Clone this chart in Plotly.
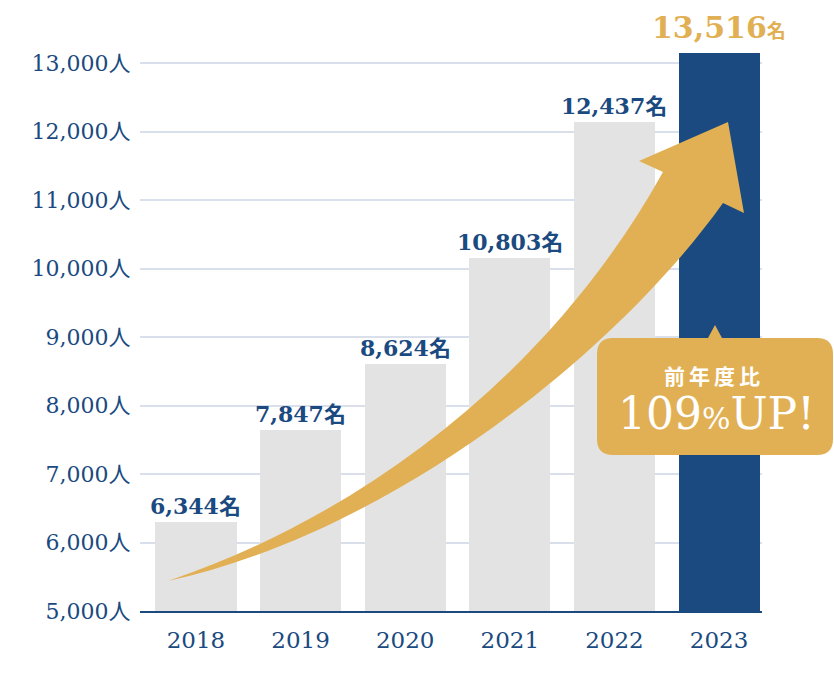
import plotly.graph_objects as go

# ---- data ----
years = ["2018", "2019", "2020", "2021", "2022", "2023"]
bar_heights = [6304, 7642, 8606, 10158, 12139, 13142]   # heights as drawn
value_labels = ["6,344", "7,847", "8,624", "10,803", "12,437", "13,516"]
unit = "名"
y_tickvals = [5000, 6000, 7000, 8000, 9000, 10000, 11000, 12000, 13000]
y_ticktext = ["5,000人", "6,000人", "7,000人", "8,000人", "9,000人",
              "10,000人", "11,000人", "12,000人", "13,000人"]
callout_line1 = "前年度比"
callout_line2 = "109%UP!"

# ---- style ----
NAVY = "#1a4a80"
GOLD = "#e2b054"
GRAY = "#e3e3e3"
SERIF = "DejaVu Serif, Noto Sans CJK JP, serif"

OFF = 0  # body margin removed via post_script
W, H = 834, 694
ML, MR, MT, MB = 140, 72, 20, 83
PW, PH = W - ML - MR, H - MT - MB


def px(x):  # page pixel -> paper
    return (x - OFF - ML) / PW


def py(y):
    return (H - MB - (y - OFF)) / PH


def pt(x, y):
    return f"{px(x):.5f},{py(y):.5f}"


colors = [GRAY] * (len(years) - 1) + [NAVY]

fig = go.Figure()
fig.add_trace(go.Bar(
    x=years, y=bar_heights, marker=dict(color=colors, line=dict(width=0)),
    width=0.775, hoverinfo="skip",
))

annotations = []
for i, (h, lab) in enumerate(zip(bar_heights, value_labels)):
    if i < len(years) - 1:
        annotations.append(dict(
            x=i, y=h, xref="x", yref="y", yanchor="bottom", xanchor="center",
            text=f"{lab}{unit}", showarrow=False, yshift=1,
            font=dict(family=SERIF, size=22, color=NAVY, weight="bold"),
        ))
    else:
        annotations.append(dict(
            x=i, y=h, xref="x", yref="y", yanchor="bottom", xanchor="center",
            text=f"{lab}<span style='font-size:19px'>{unit}</span>",
            showarrow=False, yshift=6,
            font=dict(family=SERIF, size=30, color=GOLD, weight="bold"),
        ))

# callout texts
annotations.append(dict(
    x=px(714), y=py(377), xref="paper", yref="paper", xanchor="center", yanchor="middle",
    text=f"<span style='letter-spacing:4px'>{callout_line1}</span>", showarrow=False,
    font=dict(family=SERIF, size=21, color="white", weight="bold"),
))
annotations.append(dict(
    x=px(716), y=py(413), xref="paper", yref="paper", xanchor="center", yanchor="middle",
    text=callout_line2.replace("%", "<span style='font-size:30px'>%</span>"),
    showarrow=False,
    font=dict(family=SERIF, size=44, color="white"),
))

# decorative arrow (page-pixel geometry -> paper)
arrow_path = (
    f"M {pt(168,581)} C {pt(368,513)} {pt(553,370)} {pt(663,172)} "
    f"L {pt(639,161)} L {pt(728,122)} L {pt(744,213)} L {pt(723,203)} "
    f"C {pt(613,357)} {pt(388,533)} {pt(168,581)} Z"
)

# callout box with pointer
x0, y0, x1, y1, r = 597, 338, 833, 455, 16
box_path = (
    f"M {pt(x0+r,y0)} L {pt(708,y0)} L {pt(715,325)} L {pt(722,y0)} L {pt(x1-r,y0)} "
    f"Q {pt(x1,y0)} {pt(x1,y0+r)} L {pt(x1,y1-r)} Q {pt(x1,y1)} {pt(x1-r,y1)} "
    f"L {pt(x0+r,y1)} Q {pt(x0,y1)} {pt(x0,y1-r)} L {pt(x0,y0+r)} Q {pt(x0,y0)} {pt(x0+r,y0)} Z"
)

shapes = [
    dict(type="path", path=arrow_path, xref="paper", yref="paper",
         fillcolor=GOLD, line=dict(width=0), layer="above"),
    dict(type="path", path=box_path, xref="paper", yref="paper",
         fillcolor=GOLD, line=dict(width=0), layer="above"),
]

fig.update_layout(
    width=W, height=H,
    margin=dict(l=ML, r=MR, t=MT, b=MB, pad=0),
    plot_bgcolor="white", paper_bgcolor="white",
    showlegend=False,
    bargap=0,
    hovermode=False,
    annotations=annotations,
    shapes=shapes,
    xaxis=dict(
        type="category", range=[-0.535, 5.41],
        showline=True, linecolor=NAVY, linewidth=2,
        showgrid=False, zeroline=False,
        ticks="outside", ticklen=7, tickcolor="rgba(0,0,0,0)",
        tickfont=dict(family=SERIF, size=23, color=NAVY),
        fixedrange=True,
    ),
    yaxis=dict(
        range=[5000, 5000 + PH / 68.5 * 1000],
        tickvals=y_tickvals, ticktext=y_ticktext,
        showgrid=True, gridcolor="#d9dfeb", gridwidth=2,
        zeroline=False, showline=False,
        ticks="outside", ticklen=4, tickcolor="rgba(0,0,0,0)",
        tickfont=dict(family=SERIF, size=22, color=NAVY),
        fixedrange=True,
    ),
)

fig.write_html(
    "out.html",
    config={"displayModeBar": False, "staticPlot": True},
    post_script="document.body.style.margin='0';document.body.style.overflow='hidden';",
)
